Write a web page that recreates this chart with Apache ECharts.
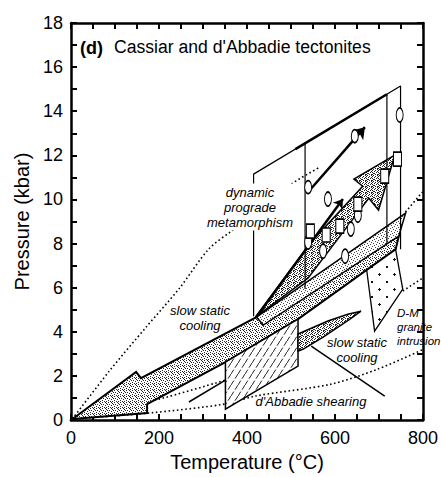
<!DOCTYPE html>
<html>
<head>
<meta charset="utf-8">
<script src="https://cdn.jsdelivr.net/npm/echarts@6/dist/echarts.min.js"></script>
<style>
html, body { margin: 0; padding: 0; background: #fff; }
#chart { width: 441px; height: 477px; }
</style>
</head>
<body>
<div id="chart"></div>
<script>
// Axis tick labels
const xLabels = [0, 200, 400, 600, 800];
const yLabels = [0, 2, 4, 6, 8, 10, 12, 14, 16, 18];

// P–T estimates (°C, kbar)
const ellipseSamples = [[747, 13.83], [584, 10.02], [652, 9.29], [636, 8.66], [573, 7.66], [623, 7.43], [539, 8.07]];
const rectSamples = [[742, 11.83], [713, 11.06], [652, 9.79], [611, 8.79], [580, 8.39], [544, 8.57]];
const pathSamples = [[539, 10.56], [645, 12.87]];

// Cassiar P–T path (arrow) and prograde edge arrow
const cassiarPath = [[539, 10.34], [668, 13.28]];
const progradeEdge = [[421.5, 4.67], [618, 10.02]];

// Envelope of Cassiar estimates
const cassiarOutline = [[415, 4.71], [415, 11.15], [749, 15.14], [749, 7.75]];
const cassiarTopHeavy = [[510, 12.28], [718, 14.77]];
const cassiarMid = [[532, 12.56], [532, 5.94]];
const cassiarRight = [[718, 14.77], [718, 7.98]];

// Shaded fields
const progradeArrow = [[419, 4.67], [543.5, 8.02], [663, 10.6], [643, 10.92], [736, 12.01], [699, 9.52], [677, 10.06], [539, 6.44]];
const coolingBand = [[421.5, 4.67], [760.5, 9.38], [745, 8.34], [437, 4.31]];
const coolingArrow = [[3.4, 0.05], [148, 2.18], [159, 1.9], [421.5, 4.67], [745, 8.34], [738, 7.75], [516, 4.58], [351, 2.63], [173, 0.73], [173, 0.32]];
const shearingBox = [[351, 2.63], [516, 4.58], [516, 2.45], [351, 0.5]];
const abbadieLens = [[516, 3.9], [584, 4.49], [629, 4.8], [659, 4.94], [634, 4.58], [573, 3.76], [528, 3.22], [516, 3.13]];
const graniteField = [[670, 7.12], [738, 7.71], [754, 5.94], [690, 4.03]];

// Leader / path lines
const abbadieCoolingLine = [[546, 3.35], [713, 1.09]];
const shearingLine = [[268, 0.82], [351, 1.81]];

// Dotted geotherms
const geothermSteep = [[3, 0.05], [87, 2.22], [171, 4.22], [245, 5.94], [313, 7.75], [365, 8.57], [426, 9.43], [494, 10.61], [566, 11.47]];
const geothermLowA = [[3, 0.1], [200, 0.95], [351, 1.81]];
const geothermLowB = [[3, 0.05], [177, 0.32], [351, 0.73], [419, 1.09], [591, 1.63], [697, 2.31], [800, 3.2]];
const geothermBand = [[760, 9.43], [799, 10.34]];
const geothermGranite = [[754, 5.85], [800, 6.45]];

const FONT = '"Liberation Sans", Arial, Helvetica, sans-serif';

// Halftone-like fills
function stipple(rows, ink) {
  const h = rows.length, w = rows[0].length;
  const c = document.createElement('canvas');
  c.width = w; c.height = h;
  const g = c.getContext('2d');
  g.fillStyle = '#fff'; g.fillRect(0, 0, w, h);
  g.fillStyle = ink;
  rows.forEach((r, y) => { for (let x = 0; x < w; x++) if (r[x] === 'x') g.fillRect(x, y, 1, 1); });
  return { image: c, repeat: 'repeat', imageWidth: w, imageHeight: h };
}
function hatch() {
  const c = document.createElement('canvas');
  c.width = 7; c.height = 11;
  const g = c.getContext('2d');
  g.fillStyle = '#fff'; g.fillRect(0, 0, 7, 11);
  g.strokeStyle = '#222'; g.lineWidth = 1;
  g.beginPath(); g.moveTo(0, 11); g.lineTo(2.8, 6.6); g.moveTo(4, 4.7); g.lineTo(7, 0); g.stroke();
  return { image: c, repeat: 'repeat', imageWidth: 7, imageHeight: 11 };
}
function plusMarks() {
  const c = document.createElement('canvas');
  c.width = 15; c.height = 15;
  const g = c.getContext('2d');
  g.fillStyle = '#fff'; g.fillRect(0, 0, 15, 15);
  g.fillStyle = '#111';
  g.fillRect(3, 4, 3, 1); g.fillRect(4, 3, 1, 3);
  g.fillRect(11, 11, 2, 2);
  return { image: c, repeat: 'repeat', imageWidth: 15, imageHeight: 15 };
}

const fillMedium = stipple(['x..x..', '....x.', '.x...x', '...x..', 'x.....', '..x.x.'], '#222');
const fillDark = stipple(['x..x.x', '.x...x', 'x..x..', '..x..x', 'x...x.', '.xx...'], '#222');
const fillLight = stipple(['x.....', '...x..', '.....x', '.x....', '....x.', '..x...'], '#444');

function polygonSeries(name, pts, fill, z, lw) {
  return {
    type: 'custom', name, z, data: pts, encode: { x: 0, y: 1 },
    renderItem(params, api) {
      if (params.dataIndex !== 0) return null;
      return {
        type: 'polygon',
        shape: { points: pts.map(p => api.coord(p)) },
        style: { fill, stroke: '#000', lineWidth: lw, lineJoin: 'miter' }
      };
    }
  };
}
function lineSeries(pts, opts) {
  return Object.assign({
    type: 'line', data: pts, symbol: 'none', silent: true, z: 7,
    lineStyle: { color: '#000', width: 1.2 }
  }, opts);
}
function dotted(pts, smooth) {
  return lineSeries(pts, { smooth: smooth || false, z: 1, lineStyle: { color: '#000', width: 1.6, type: [1.6, 2.6] } });
}
function arrowSeries(pts, width, size) {
  return {
    type: 'lines', coordinateSystem: 'cartesian2d', z: 9, silent: true,
    data: [{ coords: pts }],
    symbol: ['none', 'arrow'], symbolSize: size,
    lineStyle: { color: '#000', width, opacity: 1, curveness: 0 }
  };
}

const axisCommon = {
  type: 'value',
  axisLine: { show: true, onZero: false, lineStyle: { color: '#000', width: 2.5 } },
  axisTick: { show: true, inside: true, length: 6, lineStyle: { color: '#000', width: 2 } },
  splitLine: { show: false }
};

const italic = { fill: '#000', fontFamily: FONT, fontStyle: 'italic', fontSize: 13 };

const chart = echarts.init(document.getElementById('chart'), null, { renderer: 'svg' });
chart.setOption({
  animation: false,
  backgroundColor: '#fff',
  grid: { left: 71, right: 16, top: 23, bottom: 56 },
  xAxis: [
    Object.assign({}, axisCommon, {
      min: 0, max: 800, interval: 50, position: 'bottom',
      name: 'Temperature (°C)', nameLocation: 'middle', nameGap: 29,
      nameTextStyle: { fontSize: 20, color: '#000', fontFamily: FONT },
      axisLabel: { margin: 9, fontSize: 18, color: '#000', fontFamily: FONT,
        formatter: v => (xLabels.includes(v) ? String(v) : '') }
    }),
    Object.assign({}, axisCommon, {
      min: 0, max: 800, interval: 50, position: 'top', axisLabel: { show: false }
    })
  ],
  yAxis: [
    Object.assign({}, axisCommon, {
      min: 0, max: 18, interval: 1, position: 'left',
      name: 'Pressure (kbar)', nameLocation: 'middle', nameGap: 36,
      nameTextStyle: { fontSize: 20, color: '#000', fontFamily: FONT },
      axisLabel: { margin: 8, fontSize: 18, color: '#000', fontFamily: FONT,
        formatter: v => (yLabels.includes(v) ? String(v) : '') }
    }),
    Object.assign({}, axisCommon, {
      min: 0, max: 18, interval: 1, position: 'right', axisLabel: { show: false }
    })
  ],
  series: [
    dotted(geothermSteep, 0.3),
    dotted(geothermLowA, 0.2),
    dotted(geothermLowB, 0.3),
    dotted(geothermBand),
    dotted(geothermGranite),
    polygonSeries('granite', graniteField, plusMarks(), 3, 1.3),
    polygonSeries('cooling', coolingArrow, fillMedium, 4, 2),
    polygonSeries('shearing', shearingBox, hatch(), 5, 1.5),
    polygonSeries('lens', abbadieLens, fillDark, 6, 1.5),
    polygonSeries('band', coolingBand, fillLight, 5, 1.5),
    polygonSeries('prograde', progradeArrow, fillDark, 6, 1.5),
    lineSeries(cassiarOutline),
    lineSeries(cassiarMid),
    lineSeries(cassiarRight),
    lineSeries(cassiarTopHeavy, { lineStyle: { color: '#000', width: 2.5 } }),
    lineSeries(abbadieCoolingLine, { lineStyle: { color: '#000', width: 1.5 } }),
    lineSeries(shearingLine, { lineStyle: { color: '#000', width: 1.5 } }),
    arrowSeries(cassiarPath, 2.5, 11),
    arrowSeries(progradeEdge, 2.5, 9),
    {
      type: 'scatter', data: ellipseSamples, symbol: 'circle', symbolSize: [7, 14], z: 10,
      itemStyle: { color: '#fff', borderColor: '#000', borderWidth: 1.3, opacity: 1 }
    },
    {
      type: 'scatter', data: pathSamples, symbol: 'circle', symbolSize: [7, 13], z: 10,
      itemStyle: { color: '#fff', borderColor: '#000', borderWidth: 1.3, opacity: 1 }
    },
    {
      type: 'scatter', data: rectSamples, symbol: 'rect', symbolSize: [8, 14], z: 10,
      itemStyle: { color: '#fff', borderColor: '#000', borderWidth: 1.3, opacity: 1 }
    }
  ],
  graphic: [
    { type: 'text', x: 80, y: 48, z: 20, style: { text: '(d)', fill: '#000', fontFamily: FONT, fontWeight: 'bold', fontSize: 18, align: 'left', verticalAlign: 'middle' } },
    { type: 'text', x: 114, y: 47, z: 20, style: { text: "Cassiar and d'Abbadie tectonites", fill: '#000', fontFamily: FONT, fontSize: 17.6, align: 'left', verticalAlign: 'middle' } },
    { type: 'text', x: 250, y: 207, z: 20, style: Object.assign({ text: 'dynamic\nprograde\nmetamorphism', lineHeight: 15, align: 'center', verticalAlign: 'middle', backgroundColor: '#fff', padding: [1, 2] }, italic) },
    { type: 'text', x: 200, y: 318, z: 20, style: Object.assign({ text: 'slow static\ncooling', lineHeight: 15, align: 'center', verticalAlign: 'middle' }, italic) },
    { type: 'text', x: 357, y: 350, z: 20, style: Object.assign({ text: 'slow static\ncooling', lineHeight: 15, align: 'center', verticalAlign: 'middle' }, italic) },
    { type: 'text', x: 311, y: 401, z: 20, style: Object.assign({ text: "d'Abbadie shearing", align: 'center', verticalAlign: 'middle' }, italic) },
    { type: 'text', x: 397, y: 327, z: 20, style: Object.assign({ text: 'D-M\ngranite\nintrusion', lineHeight: 14, align: 'left', verticalAlign: 'middle' }, italic, { fontSize: 11.5 }) }
  ]
});
</script>
</body>
</html>
